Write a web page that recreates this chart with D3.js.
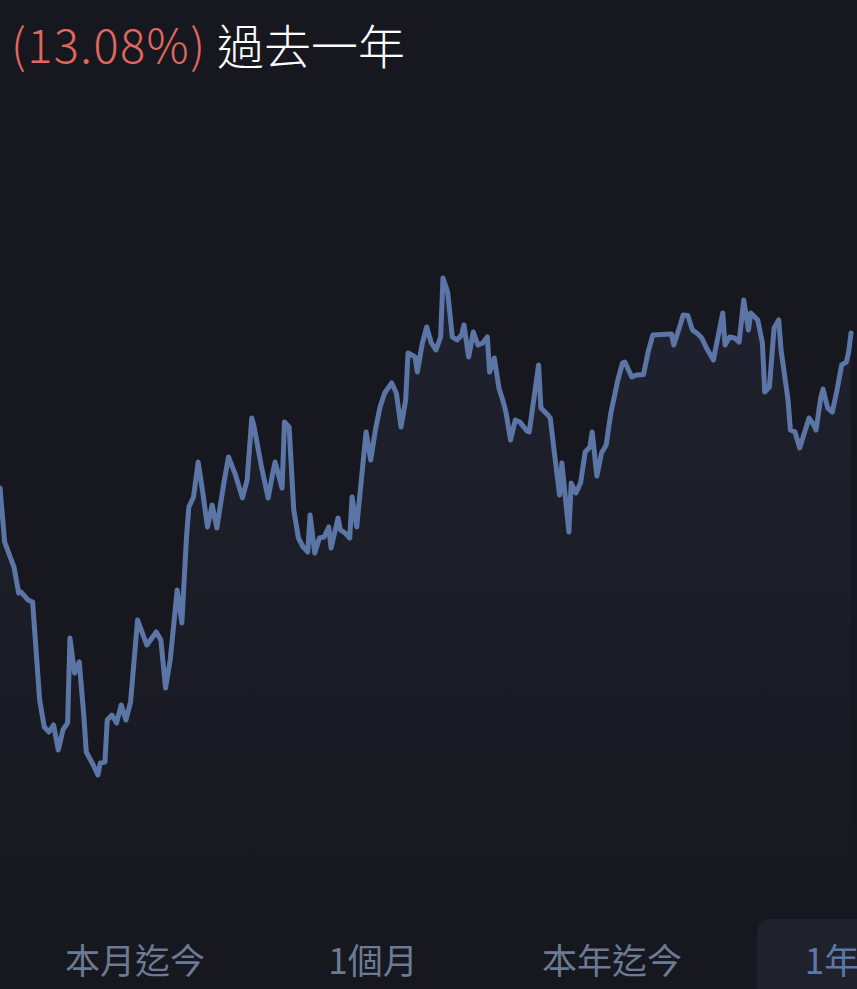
<!DOCTYPE html>
<html>
<head>
<meta charset="utf-8">
<script src="https://cdn.jsdelivr.net/npm/d3@7"></script>
<style>
  html, body { margin: 0; padding: 0; background: #17181f; overflow: hidden; }
  svg { display: block; }
</style>
</head>
<body>
<svg id="chart" width="857" height="989"></svg>
<script>
// ---- data (day index within the year, % change from the start) ----
const days = [0,2,6,8,9,12,14,17,19,21,23,25,27,29,30,32,34,36,37,40,42,43,45,46,48,50,52,54,56,59,63,67,69,71,73,76,78,80,81,83,85,87,89,91,93,96,98,101,104,106,108,109,112,115,117,118,121,122,124,126,128,130,132,133,135,137,139,141,142,145,146,148,150,151,153,157,159,161,163,165,168,169,170,172,174,175,178,179,181,183,185,187,189,190,192,194,196,198,199,201,203,205,207,209,210,212,214,216,217,219,221,223,226,227,231,232,235,236,238,240,241,244,245,247,249,251,253,254,256,258,260,262,265,267,268,271,273,276,278,280,284,288,289,292,293,295,297,299,301,303,306,307,310,311,313,315,317,319,321,322,325,327,328,330,332,334,335,338,339,341,343,345,347,349,350,352,353,355,357,359,361,363,364,365];
const changes = [0.00,-4.56,-6.67,-8.86,-8.78,-9.45,-9.62,-17.89,-20.17,-20.59,-20.00,-22.11,-20.42,-19.83,-12.66,-15.61,-14.68,-19.33,-22.28,-23.38,-24.22,-23.21,-23.13,-19.58,-19.16,-19.83,-18.31,-19.58,-18.06,-11.14,-13.25,-12.15,-12.83,-16.88,-14.52,-8.61,-11.39,-4.14,-1.60,-0.76,2.19,-0.42,-3.29,-1.43,-3.38,0.42,2.62,1.10,-0.84,0.68,5.91,5.15,1.94,-0.84,1.27,2.19,0.00,5.57,5.15,-1.86,-4.22,-4.98,-5.40,-2.28,-5.49,-4.22,-4.14,-3.29,-5.06,-2.53,-3.54,-3.80,-4.22,-0.76,-3.29,4.73,2.36,4.89,6.84,8.02,8.86,8.44,8.02,5.15,7.43,11.39,11.06,9.79,12.07,13.59,12.24,11.65,12.74,17.72,16.54,12.74,12.49,12.91,13.76,11.06,13.16,12.07,12.24,12.74,9.79,10.97,8.44,7.17,6.41,4.05,5.74,5.57,4.81,4.73,10.38,6.75,6.16,5.91,2.62,-0.59,2.11,-3.71,0.42,-0.42,0.42,3.04,3.46,4.73,1.01,2.95,3.63,6.33,9.11,10.55,10.63,9.37,9.54,9.58,11.48,12.91,12.95,13.00,12.07,13.92,14.60,14.55,13.33,13.05,12.66,11.81,10.80,11.81,14.77,12.07,12.74,12.66,12.32,15.87,13.33,14.77,14.18,12.24,8.10,8.52,13.50,14.18,11.65,7.43,4.89,4.73,3.38,4.64,5.91,5.32,4.89,7.59,8.35,6.75,6.41,8.27,10.38,10.63,11.48,13.08];
const returnLabel = "(13.08%)";
const periodLabel = "過去一年";
const tabLabels = ["本月迄今", "1個月", "本年迄今", "1年"];
const activeTab = 3;

// ---- drawing ----
const svg = d3.select("#chart");
const W = 857, H = 989;
const FONT = "'Noto Sans CJK TC', 'Noto Sans', sans-serif";

svg.append("rect").attr("width", W).attr("height", H).attr("fill", "#17181f");

const data = days.map((d, i) => ({ d, v: changes[i] }));

const x = d3.scaleLinear().domain([0, 365]).range([0, 851]);
const y = d3.scaleLinear().domain([d3.min(changes), d3.max(changes)]).range([775, 278]);

const defs = svg.append("defs");
const grad = defs.append("linearGradient")
  .attr("id", "fillGrad").attr("gradientUnits", "userSpaceOnUse")
  .attr("x1", 0).attr("x2", 0).attr("y1", 278).attr("y2", 900);
grad.append("stop").attr("offset", "0%").attr("stop-color", "#5a6ea0").attr("stop-opacity", 0.12);
grad.append("stop").attr("offset", "100%").attr("stop-color", "#5a6ea0").attr("stop-opacity", 0);

const area = d3.area().x(p => x(p.d)).y0(900).y1(p => y(p.v)).curve(d3.curveLinear);
svg.append("path").datum(data).attr("d", area).attr("fill", "url(#fillGrad)");

const line = d3.line().x(p => x(p.d)).y(p => y(p.v)).curve(d3.curveLinear);
svg.append("path").datum(data).attr("d", line)
  .attr("fill", "none").attr("stroke", "#5b76a6").attr("stroke-width", 5)
  .attr("stroke-linejoin", "round").attr("stroke-linecap", "round");

// title
svg.append("text").attr("x", 11).attr("y", 63)
  .attr("font-family", FONT).attr("font-size", 47).attr("font-weight", 300)
  .attr("fill", "#e2675f").attr("textLength", 194).attr("lengthAdjust", "spacing")
  .text(returnLabel);
svg.append("text").attr("x", 217).attr("y", 64)
  .attr("font-family", FONT).attr("font-size", 47).attr("font-weight", 300)
  .attr("fill", "#ffffff")
  .text(periodLabel);

// tabs
svg.append("rect").attr("x", 757).attr("y", 919).attr("width", 140).attr("height", 110)
  .attr("rx", 14).attr("fill", "#1f222d");
const tabCenters = [135, 373, 612, 832];
svg.selectAll("text.tab").data(tabLabels).enter().append("text")
  .attr("class", "tab")
  .attr("x", (d, i) => tabCenters[i]).attr("y", 974)
  .attr("text-anchor", "middle")
  .attr("font-family", FONT).attr("font-size", 35)
  .attr("fill", (d, i) => i === activeTab ? "#5d78a8" : "#6b7b93")
  .text(d => d);
</script>
</body>
</html>
